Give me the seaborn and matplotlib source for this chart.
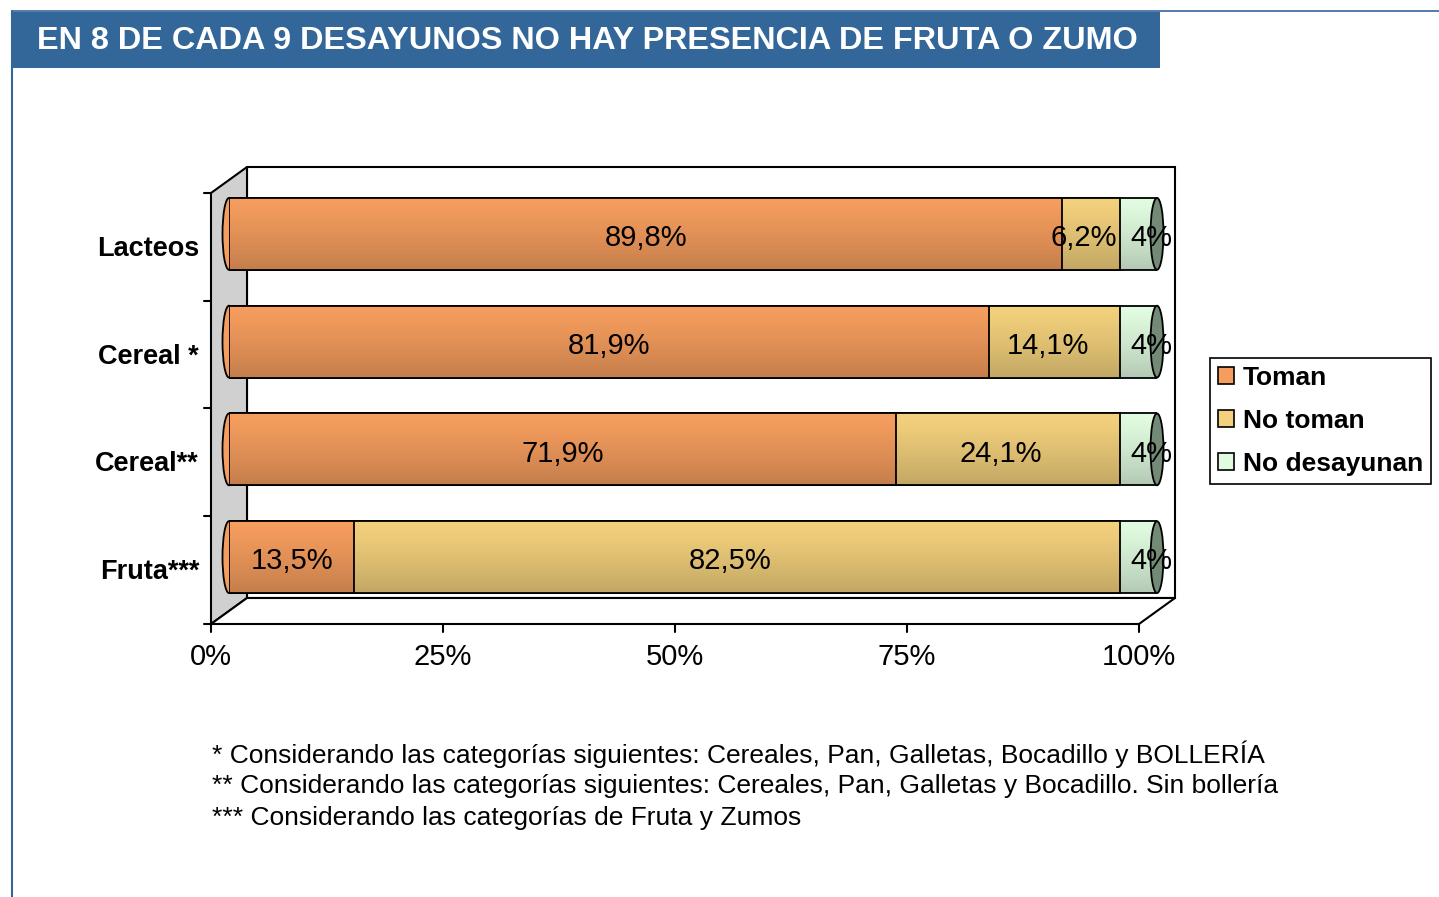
import matplotlib
matplotlib.use("Agg")
import matplotlib.pyplot as plt
from matplotlib.patches import Polygon, Rectangle, Ellipse, Patch
import numpy as np
import pandas as pd
import seaborn as sns

TITLE = "EN 8 DE CADA 9 DESAYUNOS NO HAY PRESENCIA DE FRUTA O ZUMO"
CATEGORIES = ["Lacteos", "Cereal *", "Cereal**", "Fruta***"]
SERIES = ["Toman", "No toman", "No desayunan"]
TOMAN = [89.8, 81.9, 71.9, 13.5]
NO_TOMAN = [6.2, 14.1, 24.1, 82.5]
NO_DESAYUNAN = [4, 4, 4, 4]
XTICKS = [0, 25, 50, 75, 100]
NOTES = [
    "* Considerando las categorías siguientes: Cereales, Pan, Galletas, Bocadillo y BOLLERÍA",
    "** Considerando las categorías siguientes: Cereales, Pan, Galletas y Bocadillo. Sin bollería",
    "*** Considerando las categorías de Fruta y Zumos",
]

COLORS = {"Toman": "#f59d5e", "No toman": "#f2d07c", "No desayunan": "#e0fbe0"}
LABEL_SHIFT = {"Toman": 0, "No toman": -5, "No desayunan": 9}  # points
CAP_COLOR = "#738a76"
BLUE = "#336699"

W, H = 1439, 897
DX, DY = 18, 13  # half depth of the fake 3D box, pixels


def pct(v):
    return f"{v:g}".replace(".", ",") + "%"


sns.set_theme(style="white")
plt.rcParams["font.family"] = ["Liberation Sans", "DejaVu Sans"]
plt.rcParams["text.color"] = "black"

fig = plt.figure(figsize=(W / 100, H / 100), dpi=100)
bg = fig.add_axes([0, 0, 1, 1])
bg.set_xlim(0, W)
bg.set_ylim(H, 0)
bg.axis("off")

ax = fig.add_axes([229 / W, 1 - 611 / H, 928 / W, 431 / H])

df = pd.DataFrame({"cat": CATEGORIES, "Toman": TOMAN,
                   "No toman": NO_TOMAN, "No desayunan": NO_DESAYUNAN})
df["c1"] = df["Toman"]
df["c2"] = df["c1"] + df["No toman"]
df["c3"] = df["c2"] + df["No desayunan"]

# stacked look: draw cumulative totals back to front
for col, name in [("c3", "No desayunan"), ("c2", "No toman"), ("c1", "Toman")]:
    sns.barplot(data=df, x=col, y="cat", orient="h", color=COLORS[name],
                saturation=1, width=0.667, edgecolor="black", linewidth=1.3, ax=ax)

# cylinder shading, one gradient per row clipped to the full bar
n = 64
t = np.linspace(0, 1, n)
grad = np.zeros((n, 1, 4))
grad[:, 0, 3] = 0.2 * t ** 1.3
for p in ax.patches[:len(CATEGORIES)]:
    x0, y0 = p.get_x(), p.get_y()
    im = ax.imshow(grad, extent=(x0, x0 + p.get_width(), y0 + p.get_height(), y0),
                   aspect="auto", interpolation="bilinear", zorder=5)
    im.set_clip_path(p)

bw = 0.667
for i in range(len(CATEGORIES)):
    ax.add_patch(Ellipse((0, i), 1.4, bw, fc=COLORS["Toman"], ec="black", lw=1.3,
                         zorder=0.5, clip_on=False))
    ax.add_patch(Ellipse((df["c3"][i], i), 1.4, bw, fc=CAP_COLOR, ec="black", lw=1.3,
                         zorder=6, clip_on=False))

for i in range(len(CATEGORIES)):
    start = 0
    for name in SERIES:
        v = df[name][i]
        ax.annotate(pct(v), (start + v / 2, i + 0.04), xytext=(LABEL_SHIFT[name], 0),
                    textcoords="offset points", ha="center", va="center",
                    fontsize=21, color="black", zorder=7, annotation_clip=False)
        start += v

ax.set_xlim(0, 100)
ax.set_ylim(len(CATEGORIES) - 0.5, -0.5)
ax.axis("off")


def to_px(x, y):
    px, py = ax.transData.transform((x, y))
    return px, H - py


# 3D frame around the bars
lft, top = to_px(0, -0.5)
rgt, bot = to_px(100, len(CATEGORIES) - 0.5)
bg.add_patch(Rectangle((lft + DX, top - DY), rgt - lft, bot - top,
                       fc="white", ec="black", lw=1.5))
bg.add_patch(Polygon([(lft - DX, top + DY), (lft + DX, top - DY),
                      (lft + DX, bot - DY), (lft - DX, bot + DY)],
                     fc="#d0d0d0", ec="black", lw=1.5))
bg.add_patch(Polygon([(lft - DX, bot + DY), (lft + DX, bot - DY),
                      (rgt + DX, bot - DY), (rgt - DX, bot + DY)],
                     fc="white", ec="black", lw=1.5))

for v in XTICKS:
    px, py = to_px(v, len(CATEGORIES) - 0.5)
    bg.plot([px - DX, px - DX], [py + DY, py + DY + 8], color="black", lw=1.5)
    bg.text(px - DX, py + DY + 33, f"{v}%", ha="center", va="center", fontsize=21)

for k in range(len(CATEGORIES) + 1):
    px, py = to_px(0, k - 0.5)
    bg.plot([px - DX - 7, px - DX], [py + DY, py + DY], color="black", lw=1.5)

for i, c in enumerate(CATEGORIES):
    px, py = to_px(0, i)
    bg.text(px - DX - 12, py + DY + 2, c, ha="right", va="center",
            fontsize=19.5, fontweight="bold")

# header band and page border
bg.add_patch(Rectangle((12, 12), 1148, 56, fc=BLUE, ec="none"))
bg.plot([12, W], [11, 11], color=BLUE, lw=1.2)
bg.plot([12, 12], [11, H], color=BLUE, lw=1.5)
bg.text(37, 41, TITLE, ha="left", va="center", color="white", fontsize=23.3,
        fontweight="bold")

for k, note in enumerate(NOTES):
    bg.text(212, 754 + 32 * k, note, ha="left", va="center", fontsize=19)

handles = [Patch(fc=COLORS[s], ec="black", lw=1.2) for s in SERIES]
leg = fig.legend(handles, SERIES, loc="upper left",
                 bbox_to_anchor=(1210 / W, 1 - 358 / H), frameon=True,
                 fancybox=False, edgecolor="black", framealpha=1,
                 prop={"size": 19, "weight": "bold"}, handlelength=0.6,
                 handleheight=0.6, handletextpad=0.35, labelspacing=0.72,
                 borderpad=0.3, borderaxespad=0)
leg.get_frame().set_linewidth(1.2)

fig.savefig("out.png", dpi=100)
